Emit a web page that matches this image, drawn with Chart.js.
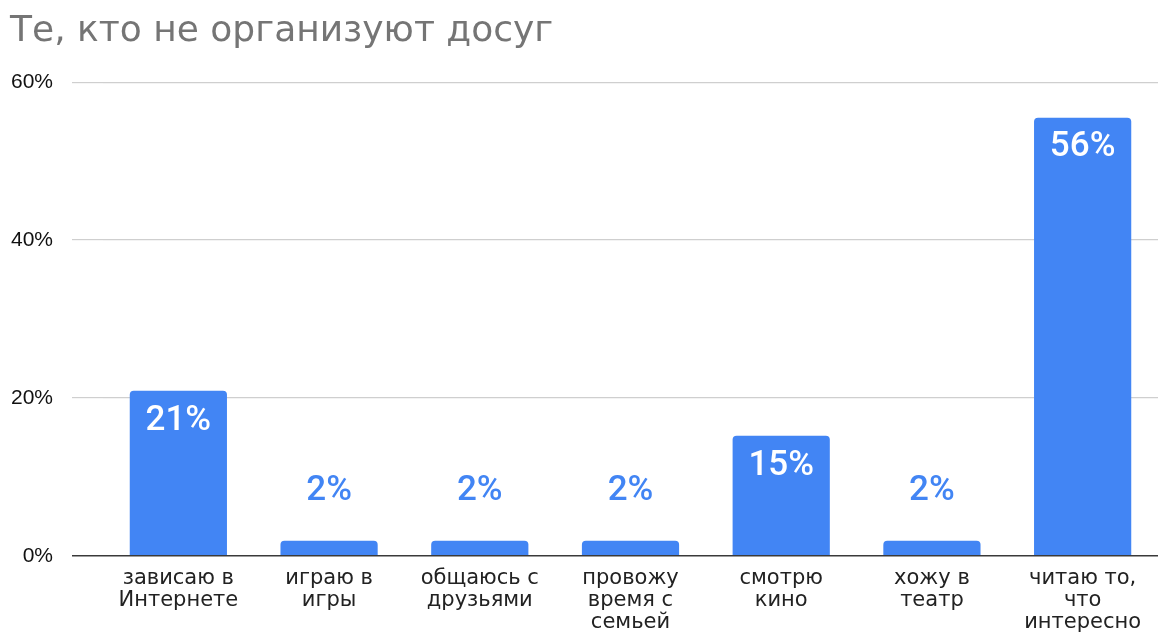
<!DOCTYPE html>
<html>
<head>
<meta charset="utf-8">
<script src="https://cdn.jsdelivr.net/npm/chart.js@4.4.1/dist/chart.umd.min.js"></script>
<style>
  html, body { margin: 0; padding: 0; background: #fff; }
  #wrap { width: 1172px; height: 632px; }
</style>
</head>
<body>
<div id="wrap"><canvas id="chart" width="1172" height="632"></canvas></div>
<script>
const categories = [
  ['зависаю в', 'Интернете'],
  ['играю в', 'игры'],
  ['общаюсь с', 'друзьями'],
  ['провожу', 'время с', 'семьей'],
  ['смотрю', 'кино'],
  ['хожу в', 'театр'],
  ['читаю то,', 'что', 'интересно'],
];
const shares = [20.9, 1.9, 1.9, 1.9, 15.2, 1.9, 55.5];
const yTicks = [0, 20, 40, 60];

const BLUE = '#4285F4';

// value labels: white inside tall bars, blue above short ones
const valueLabels = {
  id: 'valueLabels',
  afterDatasetsDraw(chart) {
    const { ctx } = chart;
    const meta = chart.getDatasetMeta(0);
    ctx.save();
    ctx.font = '500 35px Roboto, "Liberation Sans", sans-serif';
    ctx.textAlign = 'center';
    ctx.textBaseline = 'middle';
    meta.data.forEach((bar, i) => {
      const v = shares[i];
      const text = Math.round(v) + '%';
      if (v > 10) {
        ctx.fillStyle = '#ffffff';
        ctx.fillText(text, bar.x, bar.y + 30);
      } else {
        ctx.fillStyle = BLUE;
        ctx.fillText(text, bar.x, bar.y - 50);
      }
    });
    ctx.restore();
  },
};

new Chart(document.getElementById('chart').getContext('2d'), {
  type: 'bar',
  data: {
    labels: categories,
    datasets: [{
      data: shares,
      backgroundColor: BLUE,
      borderRadius: { topLeft: 4, topRight: 4, bottomLeft: 0, bottomRight: 0 },
      borderSkipped: 'start',
      categoryPercentage: 1,
      barPercentage: 0.645,
    }],
  },
  options: {
    responsive: false,
    animation: false,
    layout: { padding: { left: 10, right: 14, top: 0, bottom: -6 } },
    plugins: {
      legend: { display: false },
      tooltip: { enabled: false },
      title: {
        display: true,
        text: 'Те, кто не организуют досуг',
        align: 'start',
        color: '#757575',
        font: { family: '"DejaVu Sans", sans-serif', size: 36, weight: 'normal' },
        padding: { top: 10, bottom: 29 },
      },
    },
    scales: {
      x: {
        grid: { display: false },
        border: { display: false },
        ticks: {
          color: '#222',
          padding: 4,
          maxRotation: 0,
          autoSkip: false,
          font: { family: '"DejaVu Sans", sans-serif', size: 21, lineHeight: 1.05 },
        },
      },
      y: {
        min: 0,
        max: 60,
        border: { display: false },
        afterFit(scale) { scale.width = 93; },
        afterBuildTicks(scale) { scale.ticks = yTicks.map((value) => ({ value })); },
        grid: {
          color: (c) => (c.tick && c.tick.value === 0 ? '#3a3a3a' : '#cfcfcf'),
          lineWidth: (c) => (c.tick && c.tick.value === 0 ? 1.5 : 1.2),
          drawTicks: true,
          tickLength: 31,
        },
        ticks: {
          color: '#111',
          padding: 19,
          callback: (v) => v + '%',
          font: { family: '"Liberation Sans", Arial, sans-serif', size: 21 },
        },
      },
    },
  },
  plugins: [valueLabels],
});
</script>
</body>
</html>
